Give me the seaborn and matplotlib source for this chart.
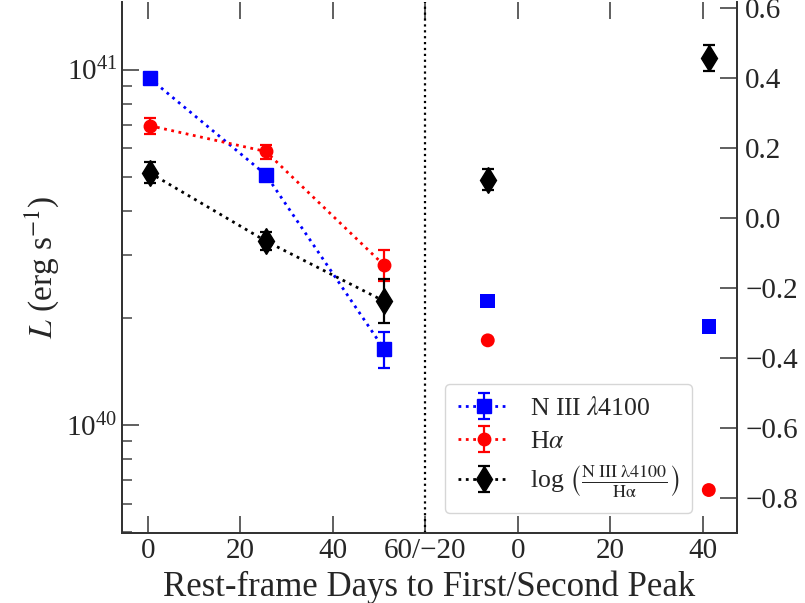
import numpy as np
import pandas as pd
import matplotlib
matplotlib.use("Agg")
import matplotlib.pyplot as plt
import seaborn as sns

# rest-frame days relative to each peak
first_days = [0.4, 25.5, 51.0]
second_days = [-6.5, 41.3]
peak_offset = 80  # second-peak days are shifted so that 60 / -20 coincide

# N III 4100 luminosity (erg/s)
niii_first = [9.44e40, 5.06e40, 1.64e40]
niii_first_err = [1.8e39, 1.6e39, 1.9e39]
niii_second = [2.23e40, 1.89e40]

# H alpha luminosity (erg/s)
halpha_first = [6.95e40, 5.88e40, 2.82e40]
halpha_first_err = [3.6e39, 2.7e39, 2.8e39]
halpha_second = [1.73e40, 6.56e39]

# log(N III / H alpha)
ratio_first = [0.129, -0.066, -0.237]
ratio_first_err = [0.03, 0.026, 0.062]
ratio_second = [0.109, 0.457]
ratio_second_err = [0.03, 0.038]

xtick_pos = [0, 20, 40, 60, 80, 100, 120]
xtick_labels = ["0", "20", "40", "60/\u221220", "0", "20", "40"]

sns.set_style("ticks")
plt.rcParams["font.family"] = ["Liberation Serif", "DejaVu Serif"]
plt.rcParams["mathtext.fontset"] = "stix"
plt.rcParams["axes.unicode_minus"] = True

second = pd.DataFrame({
    "day": np.array(second_days) + peak_offset,
    "niii": niii_second,
    "halpha": halpha_second,
    "ratio": ratio_second,
})

fig = plt.figure(figsize=(8.05, 6.03), dpi=100)
ax = fig.add_axes([122 / 805, 70 / 603, 615 / 805, 531 / 603])
ax2 = ax.twinx()

eb = dict(linestyle=":", lw=2, capsize=4, elinewidth=1.6, capthick=1.6)
h1 = ax.errorbar(first_days, niii_first, yerr=niii_first_err, fmt="s", color="blue",
                 ms=9.5, label=r"N III $\lambda$4100", **eb)
h2 = ax.errorbar(first_days, halpha_first, yerr=halpha_first_err, fmt="o", color="red",
                 ms=9, label=r"H$\alpha$", **eb)
h3 = ax2.errorbar(first_days, ratio_first, yerr=ratio_first_err, fmt="d", color="black",
                  ms=13, label=r"log $\left(\frac{\rm N\ III\ \lambda 4100}{\rm H\alpha}\right)$", **eb)

sns.scatterplot(data=second, x="day", y="niii", ax=ax, marker="s", color="blue",
                s=110, edgecolor="none", legend=False)
sns.scatterplot(data=second, x="day", y="halpha", ax=ax, marker="o", color="red",
                s=100, edgecolor="none", legend=False)
ax2.errorbar(second["day"], second["ratio"], yerr=ratio_second_err, fmt="d", color="black",
             ms=13, capsize=4, elinewidth=1.6, capthick=1.6, linestyle="none")

ax2.axvline(60, color="black", linestyle=":", lw=1.6)

ax.set_yscale("log")
ax.set_ylim(10 ** 39.696, 10 ** 41.19)
ax2.set_ylim(-0.9, 0.617)
ax.set_xlim(-5.6, 127.4)
ax.set_xticks(xtick_pos)
ax.set_xticklabels(xtick_labels)
ax2.set_yticks([-0.8, -0.6, -0.4, -0.2, 0.0, 0.2, 0.4, 0.6])

ax.set_xlabel("Rest-frame Days to First/Second Peak", fontsize=25, labelpad=5)
ax.set_ylabel(r"$L$ (erg s$^{-1}$)", fontsize=24, labelpad=4)

for a in (ax, ax2):
    a.spines["top"].set_visible(False)
    for s in a.spines.values():
        s.set_linewidth(1.3)
        s.set_color("#333333")
ax.tick_params(axis="both", which="major", direction="in", length=12, width=1.2,
               labelsize=21, top=True, color="#444444")
ax.tick_params(axis="y", which="minor", direction="in", length=7, width=1.1, color="#444444")
ax.tick_params(axis="x", which="minor", bottom=False, top=False)
ax2.tick_params(axis="y", which="major", direction="in", length=12, width=1.2,
                labelsize=21, pad=6, color="#444444")
ax2.tick_params(axis="y", which="minor", right=False)

leg = ax2.legend(handles=[h1, h2, h3], loc="lower right", bbox_to_anchor=(0.948, 0.014),
                 fontsize=18.5, frameon=True, fancybox=True, labelspacing=0.4,
                 handlelength=2.0, borderpad=0.5)
leg.get_frame().set_edgecolor("#cccccc")

fig.savefig("out.png", dpi=100)
